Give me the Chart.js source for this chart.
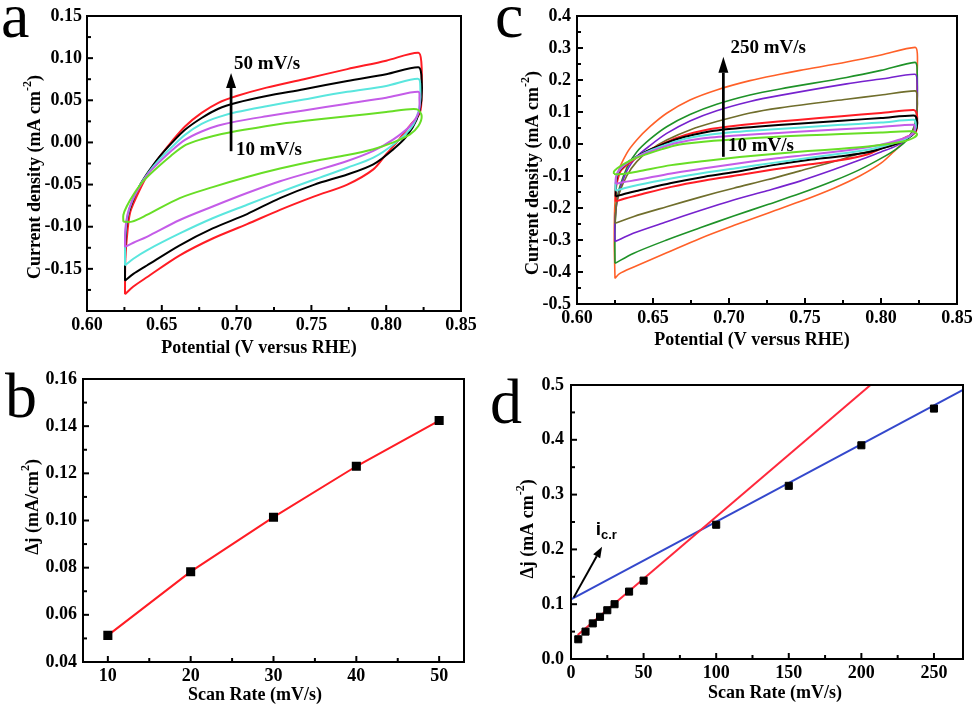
<!DOCTYPE html>
<html>
<head>
<meta charset="utf-8">
<script src="https://cdn.jsdelivr.net/npm/chart.js@4.4.1/dist/chart.umd.min.js"></script>
<style>
  html, body { margin: 0; padding: 0; background: #fff; }
  #wrap { position: relative; width: 978px; height: 710px; overflow: hidden; }
  canvas { position: absolute; }
</style>
</head>
<body>
<div id="wrap">
  <canvas id="pa" width="489" height="360" style="left:0;top:0"></canvas>
  <canvas id="pc" width="489" height="360" style="left:489px;top:0"></canvas>
  <canvas id="pb" width="489" height="360" style="left:0;top:350px"></canvas>
  <canvas id="pd" width="489" height="360" style="left:489px;top:350px"></canvas>
</div>
<script>
// ---- CV loops, panel a (reused in c): potential (V) and current (mA cm-2), anodic then cathodic
const cv50V = [0.6254,0.6256,0.6265,0.6287,0.6332,0.6399,0.6477,0.6566,0.6655,0.6766,0.6878,0.700,0.720,0.745,0.774,0.800,0.8215,0.8235,0.8237,0.8225,0.8159,0.807,0.800,0.7914,0.774,0.752,0.729,0.707,0.684,0.662,0.640,0.631,0.6254];
const cv50I = [-0.180,-0.140,-0.116,-0.084,-0.064,-0.040,-0.019,0.001,0.019,0.035,0.047,0.055,0.065,0.075,0.087,0.097,0.1065,0.095,0.060,0.035,0.020,0.000,-0.014,-0.032,-0.050,-0.064,-0.080,-0.097,-0.114,-0.134,-0.160,-0.171,-0.180];
const cv40V = [0.6254,0.6256,0.627,0.630,0.635,0.641,0.648,0.657,0.6655,0.6766,0.6878,0.700,0.720,0.745,0.774,0.800,0.8215,0.8235,0.8235,0.8204,0.8137,0.8048,0.7914,0.774,0.752,0.729,0.707,0.684,0.662,0.640,0.631,0.6254];
const cv40I = [-0.164,-0.120,-0.090,-0.072,-0.052,-0.035,-0.018,0.000,0.015,0.029,0.040,0.047,0.055,0.063,0.073,0.081,0.0893,0.080,0.050,0.0275,0.0075,-0.008,-0.026,-0.038,-0.050,-0.066,-0.085,-0.102,-0.122,-0.146,-0.156,-0.164];
const cv30V = [0.6254,0.6256,0.627,0.630,0.635,0.641,0.648,0.657,0.6655,0.6766,0.6878,0.700,0.720,0.745,0.774,0.800,0.8215,0.8228,0.8225,0.820,0.8159,0.8048,0.7914,0.774,0.752,0.729,0.707,0.684,0.662,0.640,0.631,0.6254];
const cv30I = [-0.146,-0.110,-0.088,-0.070,-0.052,-0.036,-0.021,-0.005,0.009,0.022,0.030,0.036,0.043,0.051,0.060,0.067,0.0754,0.065,0.045,0.028,0.0155,-0.0024,-0.018,-0.030,-0.044,-0.059,-0.074,-0.090,-0.108,-0.128,-0.138,-0.146];
const cv20V = [0.6254,0.6256,0.627,0.630,0.635,0.641,0.648,0.657,0.6655,0.6766,0.6878,0.700,0.720,0.745,0.774,0.800,0.8215,0.8222,0.8218,0.8159,0.8048,0.7914,0.774,0.752,0.729,0.707,0.684,0.662,0.640,0.631,0.6254];
const cv20I = [-0.124,-0.104,-0.086,-0.070,-0.053,-0.037,-0.024,-0.009,0.003,0.013,0.020,0.025,0.031,0.038,0.046,0.053,0.060,0.052,0.036,0.0195,0.0036,-0.010,-0.022,-0.034,-0.046,-0.060,-0.076,-0.092,-0.112,-0.119,-0.124];
const cv10V = [0.6243,0.6243,0.6265,0.631,0.6376,0.645,0.656,0.666,0.677,0.690,0.705,0.729,0.752,0.774,0.800,0.8204,0.8237,0.8215,0.8159,0.8048,0.7914,0.774,0.752,0.729,0.707,0.684,0.662,0.640,0.630,0.6243];
const cv10I = [-0.094,-0.086,-0.076,-0.062,-0.046,-0.033,-0.016,-0.003,0.004,0.010,0.015,0.022,0.027,0.031,0.036,0.0395,0.0315,0.0195,0.0096,0.000,-0.008,-0.015,-0.022,-0.031,-0.041,-0.053,-0.066,-0.086,-0.094,-0.094];

// ---- extra CV loops, panel c
const cv100V = [0.625,0.6265,0.6327,0.6393,0.648,0.659,0.6743,0.6919,0.7138,0.7336,0.7774,0.800,0.8224,0.8237,0.8237,0.8224,0.818,0.8103,0.800,0.786,0.769,0.7467,0.725,0.703,0.681,0.659,0.637,0.625];
const cv100I = [-0.248,-0.175,-0.100,-0.055,-0.019,0.0125,0.044,0.070,0.097,0.113,0.140,0.153,0.166,0.155,0.090,0.055,0.022,0.000,-0.014,-0.030,-0.055,-0.084,-0.112,-0.138,-0.166,-0.196,-0.227,-0.248];
const cv150V = [0.625,0.625,0.627,0.6327,0.6393,0.648,0.659,0.6743,0.6919,0.7138,0.7336,0.7774,0.800,0.8224,0.8237,0.8237,0.8224,0.818,0.8103,0.800,0.786,0.769,0.7467,0.725,0.703,0.681,0.659,0.637,0.625];
const cv150I = [-0.305,-0.240,-0.165,-0.085,-0.040,-0.005,0.033,0.072,0.104,0.133,0.152,0.188,0.203,0.218,0.200,0.100,0.055,0.020,-0.005,-0.025,-0.050,-0.080,-0.116,-0.146,-0.175,-0.208,-0.243,-0.279,-0.305];
const cv200V = [0.625,0.625,0.6265,0.6327,0.6393,0.648,0.659,0.6743,0.6919,0.7138,0.7336,0.7774,0.800,0.8224,0.8237,0.8237,0.8224,0.818,0.8103,0.800,0.786,0.769,0.7467,0.725,0.703,0.681,0.659,0.637,0.625];
const cv200I = [-0.373,-0.270,-0.165,-0.075,-0.025,0.015,0.054,0.092,0.124,0.153,0.172,0.208,0.230,0.255,0.240,0.120,0.065,0.018,-0.015,-0.045,-0.080,-0.115,-0.155,-0.190,-0.225,-0.262,-0.300,-0.342,-0.373];
const cv250V = [0.625,0.6245,0.625,0.627,0.6327,0.6393,0.648,0.659,0.6743,0.6919,0.7138,0.7336,0.7467,0.7774,0.800,0.8224,0.8239,0.8237,0.8235,0.8224,0.818,0.8103,0.800,0.786,0.769,0.7467,0.725,0.703,0.681,0.659,0.637,0.628,0.625];
const cv250I = [-0.420,-0.300,-0.180,-0.090,-0.029,0.0125,0.054,0.096,0.1375,0.169,0.198,0.218,0.230,0.256,0.278,0.302,0.283,0.200,0.106,0.044,0.020,-0.015,-0.060,-0.100,-0.138,-0.180,-0.217,-0.255,-0.295,-0.340,-0.385,-0.405,-0.420];

// ---- panel b
const bRate = [10, 20, 30, 40, 50];
const bDj = [0.0513, 0.0783, 0.1014, 0.1230, 0.1424];

// ---- panel d
const dRate = [5, 10, 15, 20, 25, 30, 40, 50, 100, 150, 200, 250];
const dDj = [0.036, 0.050, 0.065, 0.077, 0.089, 0.100, 0.123, 0.143, 0.245, 0.316, 0.390, 0.457];
const dRedX = [4.6, 206.3];
const dRedY = [0.044, 0.5];
const dBlueX = [0, 270];
const dBlueY = [0.109, 0.491];

// ---- tick labels
const cvXTicks = [0.60, 0.65, 0.70, 0.75, 0.80, 0.85];
const aYTicks = [-0.15, -0.10, -0.05, 0.00, 0.05, 0.10, 0.15];
const cYTicks = [-0.5, -0.4, -0.3, -0.2, -0.1, 0.0, 0.1, 0.2, 0.3, 0.4];
const bXTicks = [10, 20, 30, 40, 50];
const bYTicks = [0.04, 0.06, 0.08, 0.10, 0.12, 0.14, 0.16];
const dXTicks = [0, 50, 100, 150, 200, 250];
const dYTicks = [0.0, 0.1, 0.2, 0.3, 0.4, 0.5];

const SERIF = '"Liberation Serif", "Times New Roman", serif';
const SANS = '"Liberation Sans", Arial, sans-serif';

const pts = (xs, ys) => xs.map((v, i) => ({ x: v, y: ys[i] }));

function drawRich(ctx, parts, px, py, size, family, rotate, align) {
  ctx.save();
  ctx.translate(px, py);
  if (rotate) ctx.rotate(-Math.PI / 2);
  const fontFor = k => 'bold ' + (k ? Math.round(size * 0.68) : size) + 'px ' + family;
  let total = 0;
  parts.forEach(p => { ctx.font = fontFor(p[1]); total += ctx.measureText(p[0]).width; });
  let xx = align === 'left' ? 0 : -total / 2;
  ctx.textBaseline = 'middle';
  ctx.textAlign = 'left';
  ctx.fillStyle = '#000';
  parts.forEach(p => {
    ctx.font = fontFor(p[1]);
    const dy = p[1] === 1 ? -size * 0.38 : p[1] === 2 ? size * 0.3 : 0;
    ctx.fillText(p[0], xx, dy);
    xx += ctx.measureText(p[0]).width;
  });
  ctx.restore();
}

function minors(m, lo, hi) {
  const out = [];
  const st = m[1] - m[0];
  for (let i = 0; i < m.length - 1; i++) out.push((m[i] + m[i + 1]) / 2);
  if (m[0] - st / 2 >= lo) out.push(m[0] - st / 2);
  if (m[m.length - 1] + st / 2 <= hi) out.push(m[m.length - 1] + st / 2);
  return out;
}

const deco = {
  id: 'deco',
  afterDatasetsDraw(chart, args, o) {
    const { ctx, chartArea: a, scales: { x, y } } = chart;
    ctx.save();
    ctx.strokeStyle = '#000';
    ctx.fillStyle = '#000';
    ctx.lineWidth = 2;
    ctx.strokeRect(a.left, a.top, a.right - a.left, a.bottom - a.top);

    // inward ticks on left and bottom, with bold labels
    const xm = o.xTicks, ym = o.yTicks;
    const tickX = (v, len) => { const p = x.getPixelForValue(v); ctx.beginPath(); ctx.moveTo(p, a.bottom); ctx.lineTo(p, a.bottom - len); ctx.stroke(); };
    const tickY = (v, len) => { const p = y.getPixelForValue(v); ctx.beginPath(); ctx.moveTo(a.left, p); ctx.lineTo(a.left + len, p); ctx.stroke(); };
    xm.forEach(v => tickX(v, 6));
    ym.forEach(v => tickY(v, 6));
    minors(xm, x.min, x.max).forEach(v => tickX(v, 4));
    minors(ym, y.min, y.max).forEach(v => tickY(v, 4));

    ctx.font = 'bold 18px ' + SERIF;
    ctx.textBaseline = 'middle';
    ctx.textAlign = 'right';
    ym.forEach(v => ctx.fillText(v.toFixed(o.yDec), a.left - o.yPad, y.getPixelForValue(v)));
    ctx.textAlign = 'center';
    xm.forEach(v => ctx.fillText(v.toFixed(o.xDec), x.getPixelForValue(v), a.bottom + 14.5));

    // arrows in data coordinates
    (o.arrows || []).forEach(ar => {
      const x0 = x.getPixelForValue(ar.x0), y0 = y.getPixelForValue(ar.y0);
      const x1 = x.getPixelForValue(ar.x1), y1 = y.getPixelForValue(ar.y1);
      const ang = Math.atan2(y1 - y0, x1 - x0);
      const bx = x1 - Math.cos(ang) * ar.head, by = y1 - Math.sin(ang) * ar.head;
      ctx.lineWidth = ar.w;
      ctx.beginPath(); ctx.moveTo(x0, y0); ctx.lineTo(bx, by); ctx.stroke();
      const nx = -Math.sin(ang) * ar.half, ny = Math.cos(ang) * ar.half;
      ctx.beginPath(); ctx.moveTo(x1, y1); ctx.lineTo(bx + nx, by + ny); ctx.lineTo(bx - nx, by - ny); ctx.closePath(); ctx.fill();
    });

    // labels in data coordinates
    (o.labels || []).forEach(l => {
      drawRich(ctx, l.parts, x.getPixelForValue(l.x), y.getPixelForValue(l.y), l.size, l.family || SERIF, false, 'left');
    });

    // axis titles and panel letter
    drawRich(ctx, o.xTitle.parts, o.xTitle.x, o.xTitle.y, 18, SERIF, false, 'center');
    drawRich(ctx, o.yTitle.parts, o.yTitle.x, o.yTitle.y, 18, SERIF, true, 'center');
    ctx.font = '64px ' + SERIF;
    ctx.textAlign = 'left';
    ctx.textBaseline = 'alphabetic';
    ctx.fillText(o.letter.t, o.letter.x, o.letter.y);
    ctx.restore();
  }
};
Chart.register(deco);

function scales(xr, yr, L, B) {
  return {
    x: {
      type: 'linear', min: xr[0], max: xr[1],
      grid: { display: false, drawTicks: false }, border: { display: false },
      ticks: { display: false },
      afterFit: s => { s.height = B; }
    },
    y: {
      type: 'linear', min: yr[0], max: yr[1],
      grid: { display: false, drawTicks: false }, border: { display: false },
      ticks: { display: false },
      afterFit: s => { s.width = L; }
    }
  };
}

function loop(xs, ys, color, w) {
  return { data: pts(xs, ys), showLine: true, borderColor: color, borderWidth: w, pointRadius: 0, tension: 0.3, fill: false };
}

function makeChart(id, datasets, sc, pad, deco) {
  return new Chart(document.getElementById(id), {
    type: 'scatter',
    data: { datasets },
    options: {
      responsive: false, animation: false, events: [],
      layout: { padding: pad },
      scales: sc,
      plugins: { legend: { display: false }, tooltip: { enabled: false }, deco }
    }
  });
}

const C_RED = 'rgb(255,28,36)', C_BLK = '#000', C_CYAN = 'rgb(90,230,222)', C_MAG = 'rgb(196,92,232)', C_GRN = 'rgb(104,222,38)';
const C_OLV = 'rgb(112,110,44)', C_PUR = 'rgb(118,34,206)', C_DGN = 'rgb(30,146,40)', C_ORG = 'rgb(255,96,40)';
const cdTitle = [['Current density (mA cm', 0], ['-2', 1], [')', 0]];

// ---- panel a
makeChart('pa', [
  loop(cv10V, cv10I, C_GRN, 2), loop(cv20V, cv20I, C_MAG, 2), loop(cv30V, cv30I, C_CYAN, 2),
  loop(cv40V, cv40I, C_BLK, 2), loop(cv50V, cv50I, C_RED, 2)
], scales([0.6, 0.85], [-0.2, 0.15], 87, 49),
{ left: 0, top: 16, right: 28, bottom: 0 },
{
  xTicks: cvXTicks, yTicks: aYTicks, xDec: 2, yDec: 2, yPad: 5,
  arrows: [{ x0: 0.6963, y0: -0.0104, x1: 0.6963, y1: 0.0825, w: 2.7, head: 15, half: 5 }],
  labels: [
    { x: 0.6983, y: 0.093, parts: [['50 mV/s', 0]], size: 19 },
    { x: 0.6996, y: -0.0096, parts: [['10 mV/s', 0]], size: 19 }
  ],
  xTitle: { parts: [['Potential (V versus RHE)', 0]], x: 259, y: 348 },
  yTitle: { parts: cdTitle, x: 35, y: 177 },
  letter: { t: 'a', x: 1, y: 37 }
});

// ---- panel c
makeChart('pc', [
  loop(cv10V, cv10I, C_GRN, 2), loop(cv20V, cv20I, C_MAG, 2), loop(cv30V, cv30I, C_CYAN, 2),
  loop(cv40V, cv40I, C_BLK, 2), loop(cv50V, cv50I, C_RED, 2),
  loop(cv100V, cv100I, C_OLV, 1.6), loop(cv150V, cv150I, C_PUR, 1.6),
  loop(cv200V, cv200I, C_DGN, 1.6), loop(cv250V, cv250I, C_ORG, 1.6)
], scales([0.6, 0.85], [-0.5, 0.4], 88, 56),
{ left: 0, top: 16, right: 21, bottom: 0 },
{
  xTicks: cvXTicks, yTicks: cYTicks, xDec: 2, yDec: 1, yPad: 6,
  arrows: [{ x0: 0.6963, y0: -0.040, x1: 0.6963, y1: 0.273, w: 2.7, head: 16, half: 5 }],
  labels: [
    { x: 0.701, y: 0.30, parts: [['250 mV/s', 0]], size: 19 },
    { x: 0.6993, y: -0.008, parts: [['10 mV/s', 0]], size: 19 }
  ],
  xTitle: { parts: [['Potential (V versus RHE)', 0]], x: 263, y: 340 },
  yTitle: { parts: cdTitle, x: 44, y: 173 },
  letter: { t: 'c', x: 6, y: 37 }
});

// ---- panel b
makeChart('pb', [
  { data: pts(bRate, bDj), showLine: true, borderColor: C_RED, borderWidth: 2, tension: 0,
    pointStyle: 'rect', pointRadius: 5, pointBackgroundColor: '#000', pointBorderColor: '#000' }
], scales([7, 53], [0.04, 0.16], 83, 48),
{ left: 0, top: 29, right: 25, bottom: 0 },
{
  xTicks: bXTicks, yTicks: bYTicks, xDec: 0, yDec: 2, yPad: 6,
  xTitle: { parts: [['Scan Rate (mV/s)', 0]], x: 255, y: 345 },
  yTitle: { parts: [['\u0394j (mA/cm', 0], ['2', 1], [')', 0]], x: 33, y: 157 },
  letter: { t: 'b', x: 5, y: 67 }
});

// ---- panel d
makeChart('pd', [
  { data: pts(dRate, dDj), showLine: false, pointStyle: 'rect', pointRadius: 5,
    pointBackgroundColor: '#000', pointBorderColor: '#000' },
  { data: pts(dRedX, dRedY), showLine: true, borderColor: 'rgb(255,40,60)', borderWidth: 2, pointRadius: 0 },
  { data: pts(dBlueX, dBlueY), showLine: true, borderColor: 'rgb(52,72,204)', borderWidth: 2, pointRadius: 0 }
], scales([0, 270], [0, 0.5], 82, 51),
{ left: 0, top: 35, right: 15, bottom: 0 },
{
  xTicks: dXTicks, yTicks: dYTicks, xDec: 0, yDec: 1, yPad: 7,
  arrows: [{ x0: 1.8, y0: 0.112, x1: 21.4, y1: 0.205, w: 2, head: 11, half: 4 }],
  labels: [
    { x: 17.0, y: 0.235, parts: [['i', 0], ['c.r', 2]], size: 19, family: SANS }
  ],
  xTitle: { parts: [['Scan Rate (mV/s)', 0]], x: 286, y: 343 },
  yTitle: { parts: [['\u0394j (mA cm', 0], ['-2', 1], [')', 0]], x: 39, y: 179 },
  letter: { t: 'd', x: 1, y: 73 }
});
</script>
</body>
</html>
